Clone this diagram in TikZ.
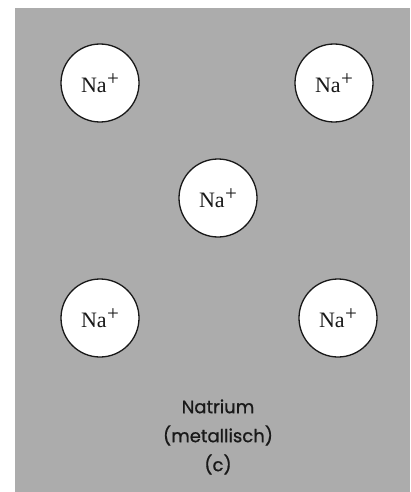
\documentclass[tikz,border=0pt]{standalone}
\usepackage{fontspec}
\setmainfont{Liberation Serif}
\newfontfamily\labelfont[FakeBold=0.8]{Poppins}
\definecolor{sheet}{RGB}{172,172,172}
\definecolor{ink}{RGB}{25,25,25}
\newcommand{\naion}{Na\kern0.5pt\raisebox{7pt}{\fontsize{21}{21}\selectfont +}}
\begin{document}
\begin{tikzpicture}[x=1pt,y=-1pt,
  ion/.style={circle,draw=ink,line width=1.3pt,fill=white,minimum size=78pt,inner sep=0pt,
    font=\fontsize{22}{24}\selectfont,text=ink},
  caption/.style={font=\labelfont\fontsize{18}{29}\selectfont,text=ink,align=center}]
  % page and grey field
  \fill[white] (0,0) rectangle (410,492);
  \fill[sheet] (15,8) rectangle (410,492);
  \useasboundingbox (0,0) rectangle (410,492);
  % sodium ions
  \node[ion] (a) at (100,83)  {\naion};
  \node[ion] (b) at (334,83)  {\naion};
  \node[ion] (c) at (218,198) {\naion};
  \node[ion] (d) at (100,318) {\naion};
  \node[ion] (e) at (338,318) {\naion};
  % caption
  \node[caption] (t) at (218,437) {Natrium\\(metallisch)\\(c)};
\end{tikzpicture}
\end{document}
